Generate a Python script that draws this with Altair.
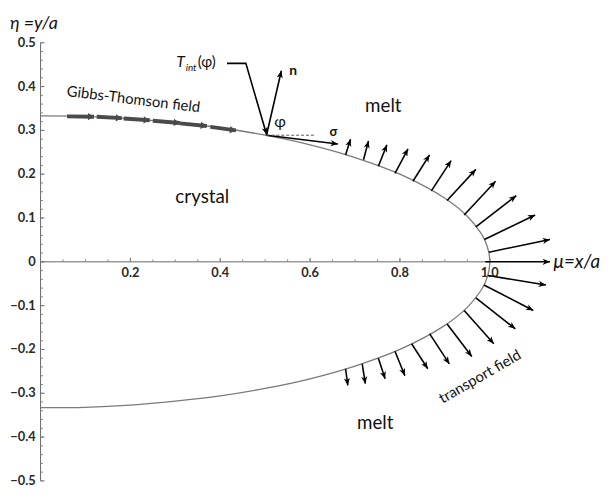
import altair as alt
import pandas as pd
import numpy as np

W, H = 569, 444
XMAX = 1.25
XS, YS = W / XMAX, H / 1.0

# ---- boundary: upper half, then lower half
cu_x = [0.0, 0.1, 0.2, 0.3, 0.4, 0.5, 0.6, 0.7, 0.8, 0.9, 0.95, 0.98, 0.99, 0.998, 1.0]
cu_y = [0.333, 0.332, 0.327, 0.318, 0.306, 0.289, 0.267, 0.238, 0.200, 0.145, 0.104, 0.066, 0.047, 0.021, 0.0]
cl_x = [0.998, 0.99, 0.98, 0.95, 0.9, 0.8, 0.7, 0.6, 0.5, 0.4, 0.3, 0.2, 0.1, 0.0]
cl_y = [-0.021, -0.047, -0.066, -0.104, -0.145, -0.200, -0.238, -0.267, -0.289, -0.306, -0.318, -0.327, -0.332, -0.333]

# ---- transport field arrows (upper): base -> tip
tu_x0 = [0.679, 0.719, 0.752, 0.789, 0.829, 0.870, 0.905, 0.943, 0.969, 0.988, 0.998]
tu_y0 = [0.244, 0.233, 0.218, 0.202, 0.184, 0.162, 0.140, 0.107, 0.080, 0.051, 0.022]
tu_x1 = [0.690, 0.730, 0.771, 0.818, 0.866, 0.914, 0.969, 1.013, 1.059, 1.101, 1.134]
tu_y1 = [0.280, 0.276, 0.267, 0.258, 0.244, 0.231, 0.211, 0.184, 0.151, 0.107, 0.051]
# ---- transport field arrows (lower)
tl_x0 = [0.996, 0.987, 0.969, 0.943, 0.905, 0.866, 0.826, 0.789, 0.752, 0.716, 0.679]
tl_y0 = [-0.031, -0.053, -0.082, -0.111, -0.142, -0.164, -0.187, -0.204, -0.220, -0.233, -0.244]
tl_x1 = [1.125, 1.097, 1.057, 1.009, 0.960, 0.910, 0.862, 0.811, 0.767, 0.723, 0.684]
tl_y1 = [-0.053, -0.111, -0.153, -0.187, -0.216, -0.233, -0.244, -0.260, -0.267, -0.278, -0.282]
# ---- Gibbs-Thomson field arrows
gt_x0 = [0.059, 0.125, 0.185, 0.250, 0.310, 0.378]
gt_y0 = [0.332, 0.331, 0.327, 0.322, 0.316, 0.308]
gt_x1 = [0.119, 0.181, 0.243, 0.310, 0.370, 0.435]
gt_y1 = [0.331, 0.328, 0.323, 0.317, 0.310, 0.300]
# ---- n and sigma arrows, x-axis arrow
vec_x0 = [0.503, 0.503, 0.990]
vec_y0 = [0.289, 0.289, 0.0]
vec_x1 = [0.536, 0.662, 1.134]
vec_y1 = [0.436, 0.269, 0.0]
# ---- T_int leader line
tl_lead_x = [0.415, 0.457, 0.503]
tl_lead_y = [0.453, 0.453, 0.291]

# ---- ticks
y_major = [0.5, 0.4, 0.3, 0.2, 0.1, 0.0, -0.1, -0.2, -0.3, -0.4, -0.5]
y_labels = ["0.5", "0.4", "0.3", "0.2", "0.1", "0", "\u22120.1", "\u22120.2", "\u22120.3", "\u22120.4", "\u22120.5"]
y_minor = [round(-0.5 + 0.02 * i, 2) for i in range(51)]
x_major = [0.2, 0.4, 0.6, 0.8, 1.0]
x_labels = ["0.2", "0.4", "0.6", "0.8", "1.0"]
x_minor = [round(0.05 * i, 2) for i in range(1, 21)]

FONT = "Lato"
xs = alt.Scale(domain=[0, XMAX], nice=False, zero=False)
ys = alt.Scale(domain=[-0.5, 0.5], nice=False, zero=False)


def X(f="x"):
    return alt.X(f"{f}:Q", scale=xs, axis=None)


def Y(f="y"):
    return alt.Y(f"{f}:Q", scale=ys, axis=None)


def arrow_df(x0, y0, x1, y1):
    d = pd.DataFrame({"x": x0, "y": y0, "x2": x1, "y2": y1})
    d["ang"] = (np.degrees(np.arctan2(-(d.y2 - d.y) * YS, (d.x2 - d.x) * XS))) % 360
    return d


HEAD = "M0,0L-1,-0.42L-0.72,0L-1,0.42Z"
HEAD_GT = "M0,0L-1,-0.6L-1,0.6Z"


def arrows(d, color, width, size, shape=HEAD):
    shaft = alt.Chart(d).mark_rule(color=color, strokeWidth=width).encode(
        x=X("x"), y=Y("y"), x2="x2:Q", y2="y2:Q")
    head = alt.Chart(d).mark_point(shape=shape, filled=True, opacity=1, color=color,
                                   size=size, strokeWidth=0).encode(
        x=X("x2"), y=Y("y2"), angle=alt.Angle("ang:Q", scale=None))
    return [shaft, head]


# curve
curve = pd.DataFrame({"x": cu_x + cl_x, "y": cu_y + cl_y})
curve["o"] = range(len(curve))
curve_layer = alt.Chart(curve).mark_line(color="#7a7a7a", strokeWidth=1.3, interpolate="catmull-rom").encode(
    x=X(), y=Y(), order="o:Q")

# axes
ax_y = alt.Chart(pd.DataFrame({"x": [0.0], "y": [-0.5], "y2": [0.5]})).mark_rule(
    color="#666", strokeWidth=1).encode(x=X(), y=Y(), y2="y2:Q")
ax_x = alt.Chart(pd.DataFrame({"x": [0.0], "x2": [1.0], "y": [0.0]})).mark_rule(
    color="#666", strokeWidth=1).encode(x=X(), x2="x2:Q", y=Y())
ytick_major = alt.Chart(pd.DataFrame({"x": 0.0, "y": y_major})).mark_rule(color="#666").encode(
    x=X(), x2=alt.value(4), y=Y())
ytick_minor = alt.Chart(pd.DataFrame({"x": 0.0, "y": y_minor})).mark_rule(color="#888").encode(
    x=X(), x2=alt.value(2.5), y=Y())
xtick_major = alt.Chart(pd.DataFrame({"x": x_major, "y": 0.0})).mark_rule(color="#666").encode(
    x=X(), y=Y(), y2=alt.value(H / 2 - 4))
xtick_minor = alt.Chart(pd.DataFrame({"x": x_minor, "y": 0.0})).mark_rule(color="#888").encode(
    x=X(), y=Y(), y2=alt.value(H / 2 - 2.5))
ylab = alt.Chart(pd.DataFrame({"x": 0.0, "y": y_major, "t": y_labels})).mark_text(
    align="right", baseline="middle", dx=-5, font=FONT, fontSize=13, fontWeight="bold", color="#2a2a2a").encode(
    x=X(), y=Y(), text="t:N")
xlab = alt.Chart(pd.DataFrame({"x": x_major, "y": 0.0, "t": x_labels})).mark_text(
    align="center", baseline="top", dy=5, font=FONT, fontSize=13, fontWeight="bold", color="#2a2a2a").encode(
    x=X(), y=Y(), text="t:N")

# leader line
lead = pd.DataFrame({"x": tl_lead_x, "y": tl_lead_y, "o": [0, 1, 2]})
lead_layer = alt.Chart(lead).mark_line(color="black", strokeWidth=1.6).encode(x=X(), y=Y(), order="o:Q")
lead_head = arrow_df([tl_lead_x[1]], [tl_lead_y[1]], [tl_lead_x[2]], [tl_lead_y[2]])
lead_head_layer = alt.Chart(lead_head).mark_point(shape=HEAD, filled=True, opacity=1, color="black",
                                                  size=200, strokeWidth=0).encode(
    x=X("x2"), y=Y("y2"), angle=alt.Angle("ang:Q", scale=None))

dash = alt.Chart(pd.DataFrame({"x": [0.503], "x2": [0.609], "y": [0.289]})).mark_rule(
    color="#555", strokeWidth=1, strokeDash=[3, 2]).encode(x=X(), x2="x2:Q", y=Y())

# texts
txt_x = [0.360, 0.763, 0.745]
txt_y = [0.147, 0.356, -0.367]
txt_t = ["crystal", "melt", "melt"]


def text_layer(x, y, t, **kw):
    base = dict(font=FONT, color="#111", baseline="middle", align="center")
    base.update(kw)
    return alt.Chart(pd.DataFrame({"x": x, "y": y, "t": t})).mark_text(**base).encode(
        x=X(), y=Y(), text="t:N")


texts = [
    text_layer(txt_x, txt_y, txt_t, fontSize=19),
    text_layer([0.207], [0.371], ["Gibbs-Thomson field"], fontSize=15, angle=7),
    text_layer([0.978], [-0.262], ["transport field"], fontSize=15, angle=330),
    text_layer([0.321], [0.455], ["T"], fontSize=16, fontStyle="italic", align="right"),
    text_layer([0.323], [0.443], ["int"], fontSize=10, fontStyle="italic", align="left"),
    text_layer([0.350], [0.455], ["(\u03c6)"], fontSize=15, align="left"),
    text_layer([0.562], [0.436], ["n"], fontSize=14, fontWeight="bold"),
    text_layer([0.533], [0.318], ["\u03c6"], fontSize=16),
    text_layer([0.652], [0.297], ["\u03c3"], fontSize=13, fontWeight="bold"),
    text_layer([-0.068], [0.543], ["\u03b7 =y/a"], fontSize=18, fontStyle="italic", align="left"),
    text_layer([1.142], [0.0], ["\u03bc=x/a"], fontSize=19, fontStyle="italic", align="left"),
]

layers = [ax_y, ax_x, ytick_major, ytick_minor, xtick_major, xtick_minor, ylab, xlab, curve_layer]
layers += arrows(arrow_df(tu_x0, tu_y0, tu_x1, tu_y1), "black", 1.6, 220)
layers += arrows(arrow_df(tl_x0, tl_y0, tl_x1, tl_y1), "black", 1.6, 220)
layers += arrows(arrow_df(gt_x0, gt_y0, gt_x1, gt_y1), "#4a4a4a", 4, 150, HEAD_GT)
layers += arrows(arrow_df(vec_x0, vec_y0, vec_x1, vec_y1), "black", 1.6, 220)
layers += [lead_layer, lead_head_layer, dash] + texts

chart = alt.layer(*layers).properties(
    width=W, height=H,
    autosize=alt.AutoSizeParams(type="none"),
    padding={"left": 33, "top": 32, "right": 5, "bottom": 6},
).configure_view(stroke=None)

chart.save("out.html", embed_options={"renderer": "svg", "actions": False})
